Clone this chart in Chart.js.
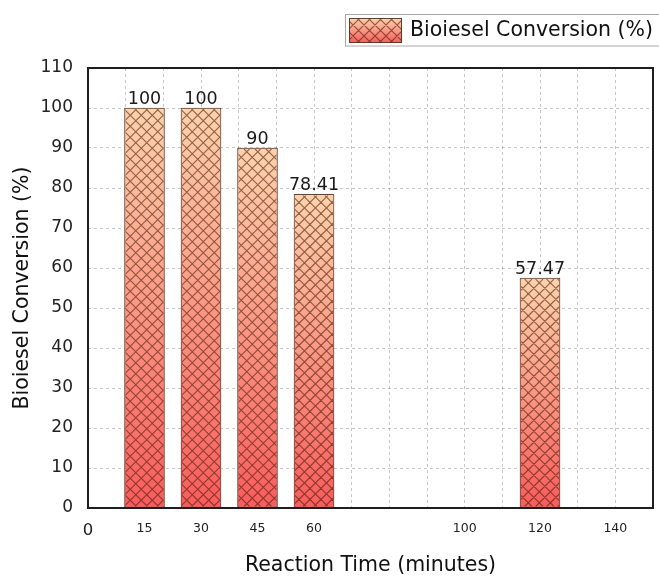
<!DOCTYPE html>
<html>
<head>
<meta charset="utf-8">
<script src="https://cdn.jsdelivr.net/npm/chart.js@4.4.1/dist/chart.umd.min.js"></script>
<style>
html,body{margin:0;padding:0;background:#fff;overflow:hidden}
#wrap{width:659px;height:577px;position:relative}
</style>
</head>
<body>
<div id="wrap"><canvas id="c" width="659" height="577"></canvas></div>
<script>
// ---- data ----
const reactionTimes = [15, 30, 45, 60, 120];
const conversions = [100, 100, 90, 78.41, 57.47];
const valueLabels = ['100', '100', '90', '78.41', '57.47'];
const xTickValues = [0, 15, 30, 45, 60, 100, 120, 140];
const yTickValues = [0, 10, 20, 30, 40, 50, 60, 70, 80, 90, 100, 110];
const seriesName = 'Bioiesel Conversion (%)';
const xTitle = 'Reaction Time (minutes)';
const yTitle = 'Bioiesel Conversion (%)';

const FAMILY = '"DejaVu Sans", "Liberation Sans", Arial, sans-serif';
const TOP_COLOR = '#fcd3ab';
const BOTTOM_COLOR = '#f85c5c';
const HATCH_COLOR = 'rgba(80,30,15,0.62)';
const BAR_BORDER = 'rgba(85,50,38,0.9)';

function makeGradient(ctx, top, bottom) {
  const g = ctx.createLinearGradient(0, top, 0, bottom);
  g.addColorStop(0, TOP_COLOR);
  g.addColorStop(1, BOTTOM_COLOR);
  return g;
}

function hatch(ctx, x, y, w, h, step) {
  ctx.save();
  ctx.beginPath();
  ctx.rect(x, y, w, h);
  ctx.clip();
  ctx.strokeStyle = HATCH_COLOR;
  ctx.lineWidth = 1.1;
  ctx.beginPath();
  for (let c = -h - step; c <= w + h + step; c += step) {
    ctx.moveTo(x + c, y + h);
    ctx.lineTo(x + c + h, y);
    ctx.moveTo(x + c, y);
    ctx.lineTo(x + c + h, y + h);
  }
  ctx.stroke();
  ctx.restore();
}

const decorPlugin = {
  id: 'decor',
  afterDatasetsDraw(chart) {
    const ctx = chart.ctx;
    const meta = chart.getDatasetMeta(0);
    meta.data.forEach((el, i) => {
      const p = el.getProps(['x', 'y', 'base', 'width'], true);
      const left = p.x - p.width / 2;
      const top = Math.min(p.y, p.base);
      const h = Math.abs(p.base - p.y);
      hatch(ctx, left + 1, top + 1, p.width - 2, h - 2, 11);
      ctx.save();
      ctx.fillStyle = '#1a1a1a';
      ctx.font = '17.5px ' + FAMILY;
      ctx.textAlign = 'center';
      ctx.textBaseline = 'alphabetic';
      ctx.fillText(valueLabels[i], p.x, p.y - 4);
      ctx.restore();
    });
    // plot frame
    const a = chart.chartArea;
    ctx.save();
    ctx.strokeStyle = '#1e1e1e';
    ctx.lineWidth = 2;
    ctx.strokeRect(a.left, a.top, a.right - a.left, a.bottom - a.top);
    ctx.restore();
  },
  afterDraw(chart) {
    const ctx = chart.ctx;
    // legend box
    ctx.save();
    ctx.fillStyle = '#fff';
    ctx.fillRect(345.5, 14.5, 330, 31.5);
    ctx.strokeStyle = '#a8a8a8';
    ctx.lineWidth = 1;
    ctx.strokeRect(345.5, 14.5, 330, 31.5);
    const sx = 349, sy = 18, sw = 53, sh = 25;
    ctx.fillStyle = makeGradient(ctx, sy, sy + sh);
    ctx.fillRect(sx, sy, sw, sh);
    hatch(ctx, sx, sy, sw, sh, 11);
    ctx.strokeStyle = BAR_BORDER;
    ctx.strokeRect(sx + 0.5, sy + 0.5, sw - 1, sh - 1);
    ctx.fillStyle = '#111';
    ctx.font = '20.5px ' + FAMILY;
    ctx.textAlign = 'left';
    ctx.textBaseline = 'middle';
    ctx.fillText(seriesName, 410, 31);
    ctx.restore();
  }
};

const gridColor = 'rgba(0,0,0,0.22)';

new Chart(document.getElementById('c'), {
  type: 'bar',
  data: {
    datasets: [{
      label: seriesName,
      data: reactionTimes.map((t, i) => ({ x: t, y: conversions[i] })),
      barThickness: 40,
      borderWidth: 1,
      borderColor: BAR_BORDER,
      borderSkipped: false,
      backgroundColor: (context) => {
        const chart = context.chart;
        if (!chart.chartArea || !context.raw) return TOP_COLOR;
        const ys = chart.scales.y;
        return makeGradient(chart.ctx, ys.getPixelForValue(context.raw.y), ys.getPixelForValue(0));
      }
    }]
  },
  options: {
    responsive: false,
    devicePixelRatio: 1,
    animation: false,
    layout: { padding: { top: 68, right: 6, bottom: 0, left: 0 } },
    plugins: {
      legend: { display: false },
      tooltip: { enabled: false }
    },
    scales: {
      x: {
        type: 'linear',
        position: 'bottom',
        offset: false,
        min: 0,
        max: 150,
        ticks: { display: false, stepSize: 10 },
        grid: { color: gridColor, drawTicks: false, lineWidth: 1, offset: false },
        border: { display: false, dash: [3, 3] },
        afterFit(s) { s.height = 0; }
      },
      x2: {
        type: 'linear',
        position: 'bottom',
        offset: false,
        min: 0,
        max: 150,
        grid: { display: false, drawTicks: false, offset: false },
        border: { display: false },
        afterBuildTicks(s) { s.ticks = xTickValues.map(v => ({ value: v })); },
        ticks: {
          autoSkip: false,
          maxRotation: 0,
          padding: 13,
          color: '#222',
          font: (ctx) => (ctx.tick && ctx.tick.value === 0)
            ? { size: 16.5, family: FAMILY }
            : { size: 12.5, family: FAMILY }
        },
        title: {
          display: true,
          text: xTitle,
          color: '#111',
          font: { size: 20.5, family: FAMILY, lineHeight: 1.1 },
          padding: { top: 0, bottom: 0 }
        },
        afterFit(s) { s.height = 69; }
      },
      y: {
        min: 0,
        max: 110,
        afterBuildTicks(s) { s.ticks = yTickValues.map(v => ({ value: v })); },
        ticks: { color: '#222', padding: 15, font: { size: 17, family: FAMILY } },
        grid: { color: gridColor, drawTicks: false, lineWidth: 1 },
        border: { display: false, dash: [3, 3] },
        title: {
          display: true,
          text: yTitle,
          color: '#111',
          font: { size: 20.5, family: FAMILY, lineHeight: 1.1 },
          padding: { top: 11, bottom: 0 }
        },
        afterFit(s) { s.width = 88; }
      }
    }
  },
  plugins: [decorPlugin]
});
</script>
</body>
</html>
